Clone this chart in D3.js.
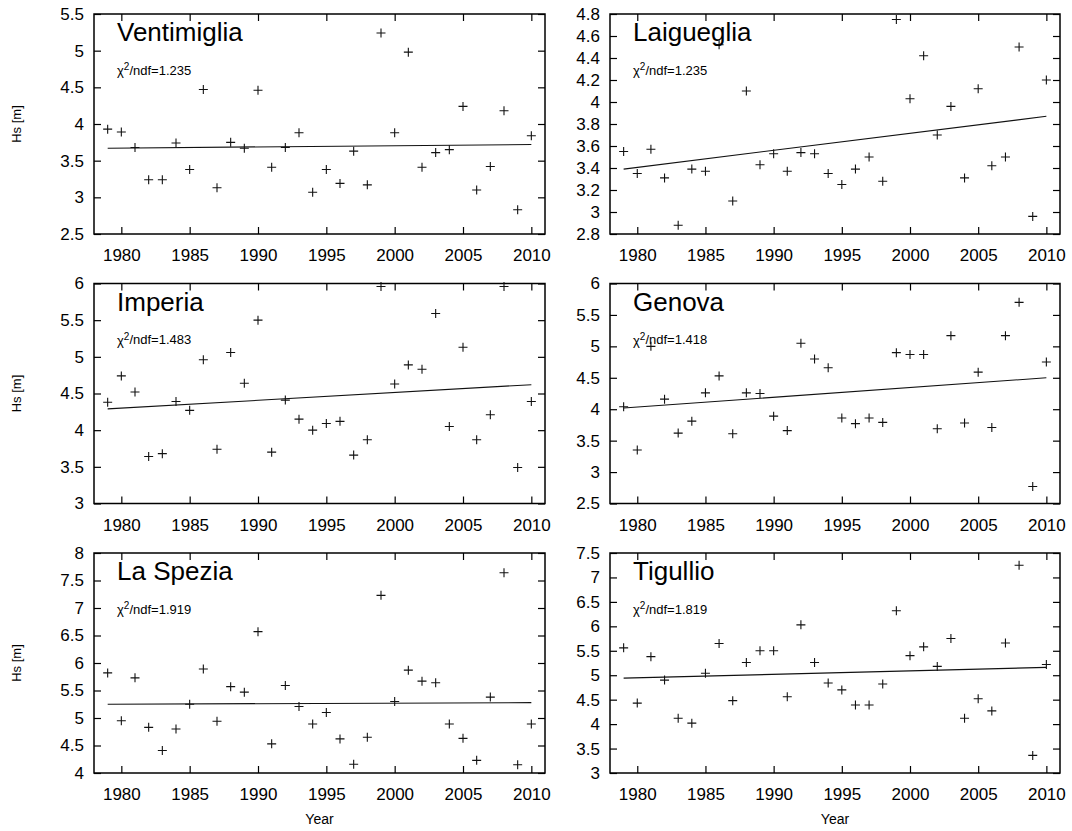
<!DOCTYPE html>
<html>
<head>
<meta charset="utf-8">
<script src="https://cdn.jsdelivr.net/npm/d3@7"></script>
<style>
  body { margin: 0; background: #fff; }
  svg text { font-family: "Liberation Sans", Arial, Helvetica, sans-serif; fill: #000; }
</style>
</head>
<body>
<div class="chart"></div>
<script>
// years on the x axis
const years = [1979, 1980, 1981, 1982, 1983, 1984, 1985, 1986, 1987, 1988, 1989,
               1990, 1991, 1992, 1993, 1994, 1995, 1996, 1997, 1998, 1999, 2000,
               2001, 2002, 2003, 2004, 2005, 2006, 2007, 2008, 2009, 2010];
const xTicks = [1980, 1985, 1990, 1995, 2000, 2005, 2010];

// Hs [m] per station
const hsVentimiglia = [3.93, 3.89, 3.68, 3.24, 3.24, 3.74, 3.38, 4.47, 3.13, 3.75, 3.67,
                       4.46, 3.41, 3.68, 3.88, 3.07, 3.38, 3.19, 3.63, 3.17, 5.24, 3.88,
                       4.98, 3.41, 3.61, 3.65, 4.24, 3.10, 3.42, 4.18, 2.83, 3.84];
const hsLaigueglia = [3.55, 3.35, 3.57, 3.31, 2.88, 3.39, 3.37, 4.52, 3.10, 4.10, 3.43,
                      3.53, 3.37, 3.54, 3.53, 3.35, 3.25, 3.39, 3.50, 3.28, 4.75, 4.03,
                      4.42, 3.70, 3.96, 3.31, 4.12, 3.42, 3.50, 4.50, 2.96, 4.20];
const hsImperia = [4.38, 4.74, 4.52, 3.64, 3.68, 4.39, 4.27, 4.96, 3.74, 5.06, 4.64,
                   5.50, 3.70, 4.41, 4.15, 4.00, 4.09, 4.12, 3.66, 3.87, 5.96, 4.63,
                   4.89, 4.83, 5.59, 4.05, 5.13, 3.87, 4.21, 5.96, 3.49, 4.39];
const hsGenova = [4.04, 3.35, 5.00, 4.16, 3.62, 3.81, 4.26, 4.53, 3.61, 4.26, 4.25,
                  3.89, 3.66, 5.05, 4.80, 4.66, 3.86, 3.77, 3.86, 3.79, 4.90, 4.87,
                  4.87, 3.69, 5.17, 3.78, 4.59, 3.71, 5.17, 5.70, 2.77, 4.75];
const hsLaSpezia = [5.82, 4.95, 5.73, 4.83, 4.41, 4.80, 5.25, 5.89, 4.94, 5.57, 5.47,
                    6.57, 4.53, 5.59, 5.21, 4.89, 5.10, 4.62, 4.16, 4.65, 7.23, 5.30,
                    5.87, 5.67, 5.64, 4.89, 4.63, 4.23, 5.38, 7.64, 4.15, 4.89];
const hsTigullio = [5.56, 4.43, 5.38, 4.90, 4.12, 4.02, 5.04, 5.65, 4.48, 5.26, 5.50,
                    5.50, 4.56, 6.03, 5.26, 4.84, 4.70, 4.39, 4.39, 4.82, 6.32, 5.40,
                    5.58, 5.18, 5.75, 4.12, 4.52, 4.27, 5.66, 7.25, 3.36, 5.22];

// linear fit, value at 1979 and at 2010
const fitYears = [1979, 2010];
const fitVentimiglia = [3.67, 3.72];
const fitLaigueglia = [3.39, 3.87];
const fitImperia = [4.29, 4.62];
const fitGenova = [4.02, 4.50];
const fitLaSpezia = [5.25, 5.28];
const fitTigullio = [4.94, 5.16];

// y tick labels
const yTicksVentimiglia = [2.5, 3, 3.5, 4, 4.5, 5, 5.5];
const yTicksLaigueglia = [2.8, 3, 3.2, 3.4, 3.6, 3.8, 4, 4.2, 4.4, 4.6, 4.8];
const yTicksImperia = [3, 3.5, 4, 4.5, 5, 5.5, 6];
const yTicksGenova = [2.5, 3, 3.5, 4, 4.5, 5, 5.5, 6];
const yTicksLaSpezia = [4, 4.5, 5, 5.5, 6, 6.5, 7, 7.5, 8];
const yTicksTigullio = [3, 3.5, 4, 4.5, 5, 5.5, 6, 6.5, 7, 7.5];

const stations = ["Ventimiglia", "Laigueglia", "Imperia", "Genova", "La Spezia", "Tigullio"];
const chi2 = ["1.235", "1.235", "1.483", "1.418", "1.919", "1.819"];

let panels = [
    {name: stations[0], chi: chi2[0], hs: hsVentimiglia, fit: fitVentimiglia, ticks: yTicksVentimiglia},
    {name: stations[1], chi: chi2[1], hs: hsLaigueglia, fit: fitLaigueglia, ticks: yTicksLaigueglia},
    {name: stations[2], chi: chi2[2], hs: hsImperia, fit: fitImperia, ticks: yTicksImperia},
    {name: stations[3], chi: chi2[3], hs: hsGenova, fit: fitGenova, ticks: yTicksGenova},
    {name: stations[4], chi: chi2[4], hs: hsLaSpezia, fit: fitLaSpezia, ticks: yTicksLaSpezia},
    {name: stations[5], chi: chi2[5], hs: hsTigullio, fit: fitTigullio, ticks: yTicksTigullio}
];

let width = 1072, height = 831;
let svg = d3.select(".chart").append("svg")
    .attr("width", width)
    .attr("height", height);

// plot area of each column / row
let colLeft = [94, 610];
let plotWidth = [451, 450];
let rowTop = [14, 283.5, 553];
let plotHeight = 220;
let tick = 7;

panels.forEach(function(p, i) {
    let col = i % 2, row = Math.floor(i / 2);
    let w = plotWidth[col], h = plotHeight;
    let g = svg.append("g").attr("transform", "translate(" + colLeft[col] + "," + rowTop[row] + ")");

    let xScale = d3.scaleLinear().domain([1978, 2011]).range([0, w]);
    let yScale = d3.scaleLinear()
        .domain([p.ticks[0], p.ticks[p.ticks.length - 1]])
        .range([h, 0]);

    //axes, ticks pointing inward on all four sides
    g.append("g")
        .attr("class", "axis")
        .call(d3.axisLeft(yScale).tickValues(p.ticks).tickFormat(function(d) { return String(d); })
              .tickSizeInner(-tick).tickSizeOuter(0).tickPadding(10));
    g.append("g")
        .attr("class", "axis")
        .attr("transform", "translate(" + w + ",0)")
        .call(d3.axisRight(yScale).tickValues(p.ticks).tickFormat("")
              .tickSizeInner(-tick).tickSizeOuter(0));
    g.append("g")
        .attr("class", "axis")
        .attr("transform", "translate(0," + h + ")")
        .call(d3.axisBottom(xScale).tickValues(xTicks).tickFormat(d3.format("d"))
              .tickSizeInner(-tick).tickSizeOuter(0).tickPadding(15));
    g.append("g")
        .attr("class", "axis")
        .call(d3.axisTop(xScale).tickValues(xTicks).tickFormat("")
              .tickSizeInner(-tick).tickSizeOuter(0));

    g.selectAll(".axis .domain").remove();
    g.selectAll(".axis text").style("font-size", "17px");
    g.selectAll(".axis line").attr("stroke", "#000").attr("stroke-width", 1.2);

    //frame
    g.append("rect")
        .attr("width", w)
        .attr("height", h)
        .attr("fill", "none")
        .attr("stroke", "#000")
        .attr("stroke-width", 1.5);

    //fit line
    let line = d3.line()
        .x(function(d, k) { return xScale(fitYears[k]); })
        .y(function(d) { return yScale(d); });
    g.append("path")
        .datum(p.fit)
        .attr("d", line)
        .attr("fill", "none")
        .attr("stroke", "#111")
        .attr("stroke-width", 1.1);

    //points
    g.selectAll(".pt")
        .data(p.hs)
        .enter().append("path")
        .attr("class", "pt")
        .attr("transform", function(d, k) { return "translate(" + xScale(years[k]) + "," + yScale(d) + ")"; })
        .attr("d", "M-4.5,0H4.5M0,-4.5V4.5")
        .attr("stroke", "#111")
        .attr("stroke-width", 1.1);

    //station name and chi2
    g.append("text")
        .attr("x", 23)
        .attr("y", 27)
        .style("font-size", "26px")
        .text(p.name);
    let chi = g.append("text")
        .attr("x", 23)
        .attr("y", 61)
        .style("font-size", "13px");
    chi.append("tspan").text("\u03c7");
    chi.append("tspan").attr("dy", "-0.5em").style("font-size", "10px").text("2");
    chi.append("tspan").attr("dy", "0.38em").text("/ndf=" + p.chi);

    //axis titles
    if (col === 0) {
        svg.append("text")
            .attr("transform", "translate(21," + (rowTop[row] + h / 2) + ") rotate(-90)")
            .attr("text-anchor", "middle")
            .style("font-size", "13px")
            .text("Hs [m]");
    }
    if (row === 2) {
        svg.append("text")
            .attr("x", colLeft[col] + w / 2)
            .attr("y", 824)
            .attr("text-anchor", "middle")
            .style("font-size", "14px")
            .text("Year");
    }
});
</script>
</body>
</html>
